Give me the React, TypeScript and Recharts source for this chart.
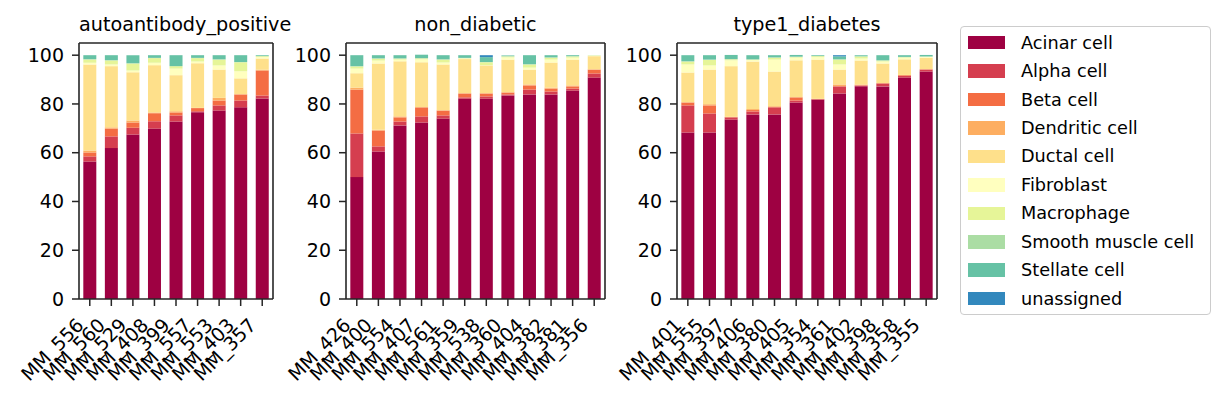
import React from 'react'
import { BarChart, Bar, XAxis, YAxis } from 'recharts'

const CELL_TYPES = [
  'Acinar cell',
  'Alpha cell',
  'Beta cell',
  'Dendritic cell',
  'Ductal cell',
  'Fibroblast',
  'Macrophage',
  'Smooth muscle cell',
  'Stellate cell',
  'unassigned'
]

const COLORS = [
  '#9e0142',
  '#d53e4f',
  '#f46d43',
  '#fdae61',
  '#fee08b',
  '#ffffbf',
  '#e6f598',
  '#abdda4',
  '#66c2a5',
  '#3288bd'
]

const Y_TICKS = [0, 20, 40, 60, 80, 100]

// autoantibody_positive
const AAB_SAMPLES = ['MM_556', 'MM_560', 'MM_529', 'MM_408', 'MM_399', 'MM_557', 'MM_553', 'MM_403', 'MM_357']
const AAB_VALUES = [
  [56.4, 61.9, 67.5, 69.9, 72.8, 76.6, 77.3, 78.6, 82.2], // Acinar
  [2.1, 4.8, 2.7, 3.0, 2.5, 0.4, 2.1, 2.8, 1.3], // Alpha
  [1.6, 3.2, 2.2, 3.3, 1.2, 1.3, 2.0, 2.5, 10.2], // Beta
  [0.8, 0.5, 0.8, 0.3, 0.5, 0.1, 1.1, 0.1, 0.3], // Dendritic
  [35.3, 25.1, 19.8, 19.4, 14.8, 18.3, 11.6, 6.5, 4.6], // Ductal
  [0.7, 0.7, 0.7, 1.0, 2.7, 0.7, 1.7, 2.9, 0.7], // Fibroblast
  [1.3, 1.6, 2.9, 1.9, 1.0, 1.4, 2.4, 3.7, 0.3], // Macrophage
  [0.2, 0.2, 0.1, 0.1, 0.0, 0.1, 0.1, 0.1, 0.1], // Smooth muscle
  [1.6, 2.0, 3.3, 1.1, 4.5, 1.1, 1.7, 2.8, 0.3], // Stellate
  [0, 0, 0, 0, 0, 0, 0, 0, 0] // unassigned
]

// non_diabetic
const ND_SAMPLES = ['MM_426', 'MM_400', 'MM_554', 'MM_407', 'MM_561', 'MM_359', 'MM_538', 'MM_360', 'MM_404', 'MM_382', 'MM_381', 'MM_356']
const ND_VALUES = [
  [50.0, 60.5, 71.2, 72.4, 74.0, 82.2, 82.2, 83.5, 83.9, 83.9, 85.5, 90.8],
  [17.9, 2.1, 1.6, 2.5, 1.3, 0.5, 0.9, 0.4, 2.0, 1.2, 0.8, 1.7],
  [18.0, 6.5, 1.7, 3.7, 2.0, 1.6, 1.2, 0.8, 1.7, 1.2, 0.9, 1.6],
  [0.8, 0.3, 0.4, 0.1, 0.1, 0.1, 0.1, 0.1, 0.4, 0.4, 0.4, 0.1],
  [5.9, 27.2, 22.6, 18.4, 18.8, 14.0, 11.4, 13.4, 6.1, 10.3, 10.6, 5.4],
  [1.9, 1.2, 0.7, 1.2, 0.8, 0.3, 0.1, 0.9, 0.8, 1.2, 0.8, 0.3],
  [0.9, 0.8, 0.4, 0.4, 1.2, 0.1, 1.2, 0.4, 1.3, 0.8, 0.5, 0.05],
  [0.1, 0.1, 0.1, 0.1, 0.1, 0.1, 0.1, 0.1, 0.1, 0.1, 0.1, 0.0],
  [4.5, 1.3, 1.3, 1.4, 1.7, 1.1, 2.0, 0.3, 3.7, 0.9, 0.4, 0.05],
  [0, 0, 0, 0, 0, 0, 0.8, 0, 0, 0, 0, 0]
]

// type1_diabetes
const T1D_SAMPLES = ['MM_401', 'MM_555', 'MM_397', 'MM_406', 'MM_380', 'MM_405', 'MM_354', 'MM_361', 'MM_402', 'MM_398', 'MM_358', 'MM_355']
const T1D_VALUES = [
  [68.3, 68.3, 73.6, 75.7, 75.7, 80.6, 81.8, 84.3, 87.3, 87.2, 90.8, 93.3],
  [11.1, 7.8, 0.9, 1.2, 2.9, 0.8, 0.1, 2.9, 0.3, 1.2, 0.7, 0.8],
  [1.2, 3.3, 0.1, 0.6, 0.2, 1.3, 0.1, 0.1, 0.1, 0.1, 0.3, 0.1],
  [0.1, 0.5, 0.1, 0.4, 0.3, 0.1, 0.1, 0.7, 0.3, 0.1, 0.1, 0.1],
  [12.2, 14.2, 20.8, 19.5, 14.2, 15.1, 16.1, 6.1, 9.8, 8.0, 6.4, 4.6],
  [3.3, 1.7, 2.4, 0.6, 4.9, 1.1, 1.0, 2.1, 0.8, 0.8, 0.7, 0.4],
  [1.2, 2.3, 0.4, 0.2, 0.8, 0.3, 0.4, 2.0, 0.9, 0.4, 0.2, 0.1],
  [0.1, 0.1, 0.1, 0.1, 0.1, 0.1, 0.1, 0.1, 0.1, 0.1, 0.1, 0.1],
  [2.5, 1.8, 1.7, 1.7, 0.9, 0.7, 0.3, 1.2, 0.4, 2.1, 0.7, 0.6],
  [0, 0, 0, 0, 0, 0, 0, 0.5, 0, 0, 0, 0]
]

const FONT = 'DejaVu Sans'
const INK = '#262626'
const Y_AXIS_W = 70
const PLOT_TOP = 43
const PLOT_BOTTOM = 299
const FIG_H = 404

const XTick = (props: any) => {
  const { x, y, payload } = props
  const ax = x - 5
  const ay = y + 20.5
  return (
    <text
      x={ax}
      y={ay}
      textAnchor="end"
      transform={`rotate(-45 ${ax} ${ay})`}
      fontSize={19}
      fontFamily={FONT}
      fill="#000"
    >
      {payload.value}
    </text>
  )
}

const Panel = ({ title, samples, values, left, width }: {
  title: string
  samples: string[]
  values: number[][]
  left: number
  width: number
}) => {
  const data = samples.map((s, i) => {
    const row: Record<string, any> = { sample: s }
    CELL_TYPES.forEach((c, k) => {
      row[c] = values[k][i]
    })
    return row
  })

  return (
    <>
      <div
        style={{
          position: 'absolute',
          left,
          top: 15,
          width,
          textAlign: 'center',
          fontSize: 19.2,
          lineHeight: 1,
          fontFamily: FONT,
          color: '#000',
          whiteSpace: 'nowrap'
        }}
      >
        {title}
      </div>
      <div style={{ position: 'absolute', left: left - Y_AXIS_W, top: 0 }}>
        <BarChart
          width={Y_AXIS_W + width + 4}
          height={FIG_H}
          data={data}
          margin={{ top: PLOT_TOP, right: 4, left: 0, bottom: 0 }}
          barCategoryGap="20%"
        >
          <XAxis
            dataKey="sample"
            type="category"
            interval={0}
            height={FIG_H - PLOT_BOTTOM}
            axisLine={{ stroke: INK, strokeWidth: 1.6 }}
            tickLine={{ stroke: INK, strokeWidth: 1.5 }}
            tickSize={7}
            tickMargin={0}
            tick={<XTick />}
          />
          <XAxis
            xAxisId="top"
            dataKey="sample"
            orientation="top"
            mirror
            axisLine={{ stroke: INK, strokeWidth: 1.6 }}
            tickLine={false}
            tick={false}
          />
          <YAxis
            type="number"
            domain={[0, 105]}
            ticks={Y_TICKS}
            width={Y_AXIS_W}
            allowDataOverflow
            axisLine={{ stroke: INK, strokeWidth: 1.6 }}
            tickLine={{ stroke: INK, strokeWidth: 1.5 }}
            tickSize={7}
            tickMargin={8}
            tick={{ fontSize: 19, fontFamily: FONT, fill: '#000' }}
          />
          <YAxis
            yAxisId="right"
            orientation="right"
            type="number"
            domain={[0, 105]}
            mirror
            axisLine={{ stroke: INK, strokeWidth: 1.6 }}
            tickLine={false}
            tick={false}
          />
          {CELL_TYPES.map((c, k) => (
            <Bar
              key={c}
              dataKey={c}
              stackId="a"
              fill={COLORS[k]}
              isAnimationActive={false}
            />
          ))}
        </BarChart>
      </div>
    </>
  )
}

const Legend = () => (
  <div
    style={{
      position: 'absolute',
      left: 960,
      top: 26,
      width: 251,
      height: 289,
      boxSizing: 'border-box',
      border: '1.2px solid #cccccc',
      borderRadius: 4,
      paddingTop: 1.5,
      fontFamily: FONT,
      fontSize: 17.7,
      color: '#000'
    }}
  >
    {CELL_TYPES.map((c, k) => (
      <div key={c} style={{ height: 28.44, display: 'flex', alignItems: 'center' }}>
        <span
          style={{
            display: 'inline-block',
            marginLeft: 7,
            width: 37,
            height: 13.5,
            background: COLORS[k]
          }}
        />
        <span style={{ marginLeft: 16, whiteSpace: 'nowrap' }}>{c}</span>
      </div>
    ))}
  </div>
)

export default function App() {
  return (
    <div
      style={{
        position: 'absolute',
        left: 0,
        top: 0,
        width: 1226,
        height: FIG_H,
        background: '#fff',
        overflow: 'hidden'
      }}
    >
      <Panel title="autoantibody_positive" samples={AAB_SAMPLES} values={AAB_VALUES} left={79} width={194} />
      <Panel title="non_diabetic" samples={ND_SAMPLES} values={ND_VALUES} left={346} width={259} />
      <Panel title="type1_diabetes" samples={T1D_SAMPLES} values={T1D_VALUES} left={677} width={260} />
      <Legend />
    </div>
  )
}
